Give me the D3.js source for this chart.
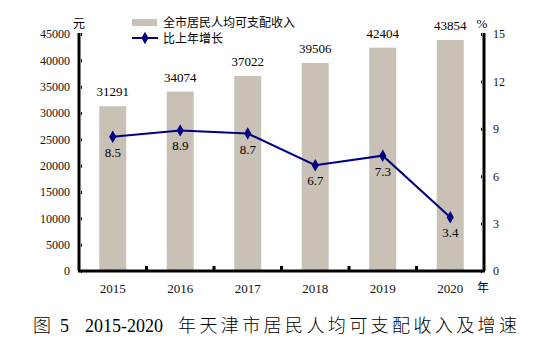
<!DOCTYPE html>
<html>
<head>
<meta charset="utf-8">
<script src="https://cdn.jsdelivr.net/npm/d3@7"></script>
<style>
  body { margin: 0; background: #fff; }
  svg text { font-family: "Liberation Serif", "DejaVu Serif", "Times New Roman", serif; }
  svg text.cjk { font-family: "Noto Sans CJK SC", sans-serif; }
</style>
</head>
<body>
<svg id="chart" width="550" height="350"></svg>
<script>
// data
const years = ["2015", "2016", "2017", "2018", "2019", "2020"];
const income = [31291, 34074, 37022, 39506, 42404, 43854];
const growth = [8.5, 8.9, 8.7, 6.7, 7.3, 3.4];
const leftTicks = [0, 5000, 10000, 15000, 20000, 25000, 30000, 35000, 40000, 45000];
const rightTicks = [0, 3, 6, 9, 12, 15];

const plotL = 79, plotR = 484, plotT = 34, plotB = 271;
const serif = '"Liberation Serif", "DejaVu Serif", serif';
const svg = d3.select("#chart");

const x = d3.scaleBand().domain(years).range([plotL, plotR]);
const yL = d3.scaleLinear().domain([0, 45000]).range([plotB, plotT]);
const yR = d3.scaleLinear().domain([0, 15]).range([plotB, plotT]);

const barW = 27;
const navy = "#000080";

// bars
svg.append("g")
  .selectAll("rect")
  .data(years)
  .enter()
  .append("rect")
  .attr("x", (d) => x(d) + x.bandwidth() / 2 - barW / 2)
  .attr("y", (d, i) => yL(income[i]))
  .attr("width", barW)
  .attr("height", (d, i) => plotB - yL(income[i]))
  .attr("fill", "#c9c1b5");

// bar values
svg.append("g")
  .selectAll("text")
  .data(years)
  .enter()
  .append("text")
  .attr("x", (d) => x(d) + x.bandwidth() / 2)
  .attr("y", (d, i) => yL(income[i]) - 10)
  .attr("text-anchor", "middle")
  .style("font-family", serif)
  .style("font-size", "13px")
  .text((d, i) => income[i]);

// left axis
const axL = svg.append("g")
  .attr("transform", `translate(${plotL},0)`)
  .call(d3.axisLeft(yL).tickValues(leftTicks).tickSize(-3).tickPadding(9).tickFormat(d3.format("d")));
axL.select(".domain").attr("stroke", "#000").attr("stroke-width", 3).attr("d", `M0,${plotT - 1}V${plotB}`);
axL.selectAll(".tick line").attr("stroke-width", 3).attr("x1", 2);
axL.selectAll(".tick text").style("font-size", "12px").style("font-family", serif).attr("fill", "#111");

// right axis
const axR = svg.append("g")
  .attr("transform", `translate(${plotR},0)`)
  .call(d3.axisRight(yR).tickValues(rightTicks).tickSize(-3).tickPadding(9));
axR.select(".domain").attr("stroke", "#000").attr("stroke-width", 3).attr("d", `M0,${plotT - 1}V${plotB}`);
axR.selectAll(".tick line").attr("stroke-width", 3).attr("x1", -2);
axR.selectAll(".tick text").style("font-size", "12px").style("font-family", serif).attr("fill", "#111");

// bottom axis
const axB = svg.append("g")
  .attr("transform", `translate(0,${plotB})`)
  .call(d3.axisBottom(x).tickSize(0).tickPadding(13));
axB.select(".domain").attr("stroke", "#000").attr("stroke-width", 3).attr("d", `M${plotL - 1},0H${plotR + 1}`);
axB.selectAll(".tick text").style("font-size", "13px").style("font-family", serif).attr("fill", "#111");
// small ticks between categories
axB.selectAll(".sep")
  .data(years.slice(1))
  .enter()
  .append("line")
  .attr("x1", (d) => x(d))
  .attr("x2", (d) => x(d))
  .attr("y1", 0)
  .attr("y2", -5)
  .attr("stroke", "#000")
  .attr("stroke-width", 3);

// growth line
const line = d3.line()
  .x((d, i) => x(years[i]) + x.bandwidth() / 2)
  .y((d) => yR(d));

svg.append("path")
  .datum(growth)
  .attr("d", line)
  .attr("fill", "none")
  .attr("stroke", navy)
  .attr("stroke-width", 2);

svg.append("g")
  .selectAll("path")
  .data(growth)
  .enter()
  .append("path")
  .attr("d", d3.symbol().type(d3.symbolDiamond).size(45))
  .attr("transform", (d, i) => `translate(${x(years[i]) + x.bandwidth() / 2},${yR(d)})`)
  .attr("fill", navy);

svg.append("g")
  .selectAll("text")
  .data(growth)
  .enter()
  .append("text")
  .attr("x", (d, i) => x(years[i]) + x.bandwidth() / 2)
  .attr("y", (d) => yR(d) + 20)
  .attr("text-anchor", "middle")
  .style("font-family", serif)
  .style("font-size", "13px")
  .text((d) => d.toFixed(1));

// unit labels
svg.append("text").attr("class", "cjk").attr("x", 79).attr("y", 28)
  .attr("text-anchor", "middle").style("font-size", "12px").text("元");
svg.append("text").attr("x", 482).attr("y", 28)
  .attr("text-anchor", "middle").style("font-family", serif).style("font-size", "13px").text("%");
svg.append("text").attr("class", "cjk").attr("x", 483).attr("y", 292)
  .attr("text-anchor", "middle").style("font-size", "12px").text("年");

// legend
svg.append("rect").attr("x", 132).attr("y", 19).attr("width", 25).attr("height", 7).attr("fill", "#c9c1b5");
svg.append("text").attr("class", "cjk").attr("x", 163).attr("y", 27).style("font-size", "12px")
  .text("全市居民人均可支配收入");
svg.append("line").attr("x1", 132).attr("x2", 158).attr("y1", 38).attr("y2", 38)
  .attr("stroke", navy).attr("stroke-width", 2);
svg.append("path").attr("d", d3.symbol().type(d3.symbolDiamond).size(45)())
  .attr("transform", "translate(145,38)").attr("fill", navy);
svg.append("text").attr("class", "cjk").attr("x", 163).attr("y", 43).style("font-size", "12px")
  .text("比上年增长");

// caption
svg.append("text").attr("class", "cjk").attr("x", 33).attr("y", 332)
  .style("font-size", "18px").style("font-weight", 300).text("图");
svg.append("text").attr("x", 60).attr("y", 332)
  .style("font-family", serif).style("font-size", "18px").text("5");
svg.append("text").attr("x", 85).attr("y", 332)
  .style("font-family", serif).style("font-size", "18px").text("2015-2020");
svg.append("text").attr("class", "cjk").attr("x", 178).attr("y", 332)
  .style("font-size", "18px").style("font-weight", 300).style("letter-spacing", "3.4px")
  .text("年天津市居民人均可支配收入及增速");
</script>
</body>
</html>
